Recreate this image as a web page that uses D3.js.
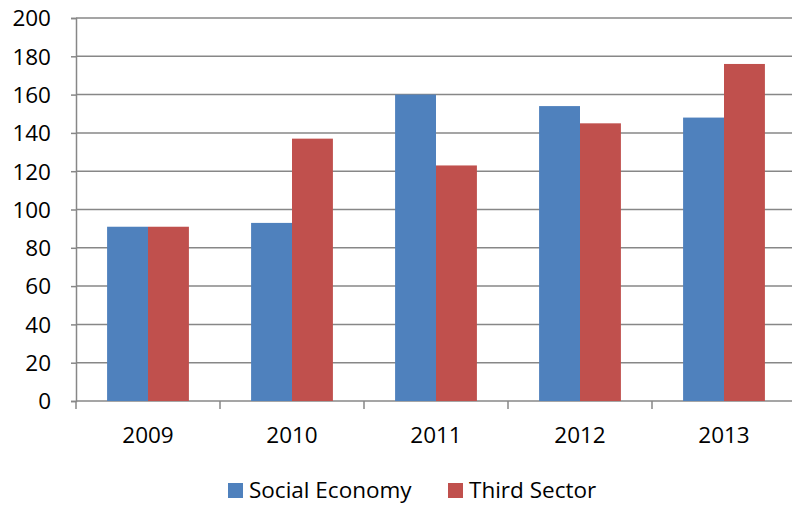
<!DOCTYPE html>
<html><head><meta charset="utf-8">
<script src="https://cdn.jsdelivr.net/npm/d3@7"></script>
<style>body{margin:0;background:#fff}svg{display:block}text{font-family:"Open Sans","Liberation Sans",sans-serif;fill:#000}</style>
</head><body><svg id="c" width="792" height="505"></svg>
<script>
const categories = ["2009","2010","2011","2012","2013"];
const seriesNames = ["Social Economy","Third Sector"];
const socialEconomy = [91, 93, 160, 154, 148];
const thirdSector = [91, 137, 123, 145, 176];
const yTicks = [0,20,40,60,80,100,120,140,160,180,200];
const colors = ["#4F81BD","#C0504D"];

const svg = d3.select("#c");
const x0 = 76, x1 = 796, yTop = 18, yBot = 401;
const FS = "22.5px";
const x = d3.scaleBand().domain(categories).range([x0, x1]).paddingInner(0).paddingOuter(0);
const xs = d3.scaleBand().domain(seriesNames).range([0, x.bandwidth()]).paddingInner(0).paddingOuter(0.76);
const y = d3.scaleLinear().domain([0,200]).range([yBot, yTop]);

// grid
svg.append("g").selectAll("line").data(yTicks).join("line")
  .attr("x1", x0).attr("x2", 792).attr("y1", d=>y(d)).attr("y2", d=>y(d))
  .attr("stroke", "#878787").attr("stroke-width", 1.5);

// bars
const data = [socialEconomy, thirdSector];
categories.forEach((c,i)=>{
  seriesNames.forEach((s,j)=>{
    svg.append("rect").attr("x", x(c)+xs(s)).attr("width", xs.bandwidth())
      .attr("y", y(data[j][i])).attr("height", y(0)-y(data[j][i]))
      .attr("fill", colors[j]);
  });
});

// y axis
const ya = svg.append("g").attr("transform", `translate(${x0},0)`)
  .call(d3.axisLeft(y).tickValues(yTicks).tickSize(5).tickPadding(20));
ya.select(".domain").attr("stroke","#878787").attr("stroke-width",1.5);
ya.selectAll(".tick line").attr("stroke","#878787").attr("stroke-width",1.5);
ya.selectAll(".tick text").style("font-size",FS).attr("dy","0.35em");

// x axis
const xa = svg.append("g").attr("transform", `translate(0,${yBot})`)
  .call(d3.axisBottom(x).tickSize(0).tickPadding(26));
xa.select(".domain").remove();
xa.selectAll(".tick text").style("font-size",FS);
svg.append("g").selectAll("line").data(categories.concat(["end"])).join("line")
  .attr("x1",(d,i)=>x0+i*x.bandwidth()).attr("x2",(d,i)=>x0+i*x.bandwidth())
  .attr("y1",yBot).attr("y2",yBot+8).attr("stroke","#878787").attr("stroke-width",1.5);

// legend
const leg = svg.append("g");
const legX = [228, 448];
seriesNames.forEach((s,j)=>{
  leg.append("rect").attr("x",legX[j]).attr("y",483).attr("width",15).attr("height",15).attr("fill",colors[j]);
  leg.append("text").attr("x",legX[j]+21).attr("y",498).style("font-size",FS).text(s);
});
</script></body></html>
